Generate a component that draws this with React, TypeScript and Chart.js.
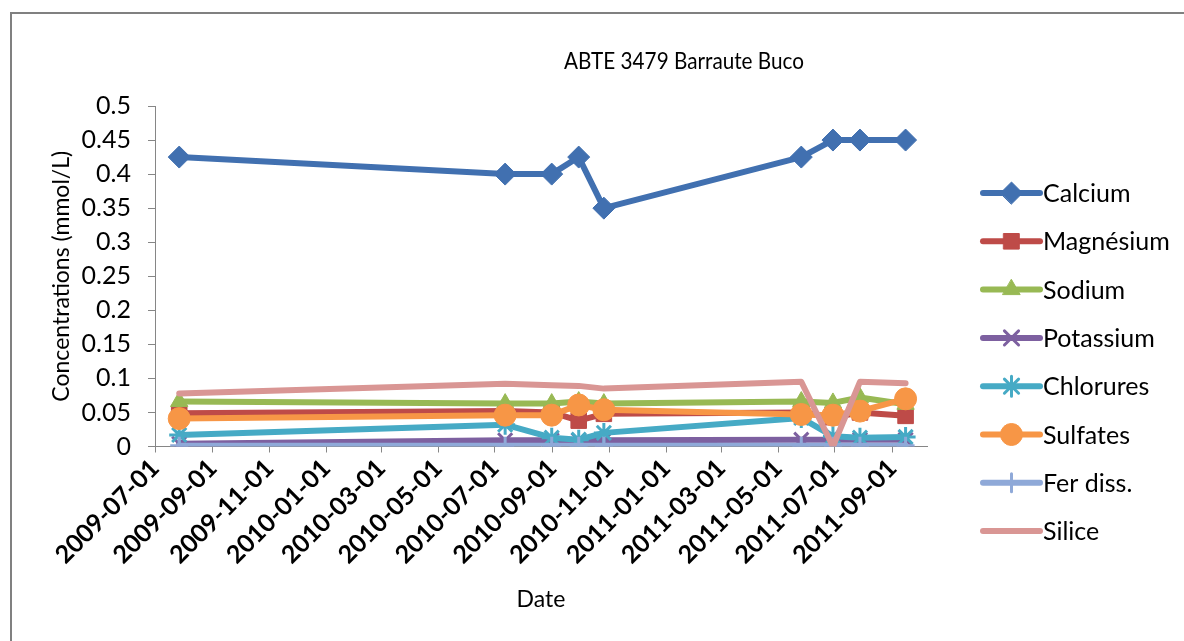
import React, { useEffect, useRef } from 'react';
import { Chart, registerables } from 'chart.js';
import { drawPoint } from 'chart.js/helpers';

Chart.register(...registerables);

// ---- data ----
const chartTitle = 'ABTE 3479 Barraute Buco';
const yAxisTitle = 'Concentrations (mmol/L)';
const xAxisTitle = 'Date';

const dates = ['2009-07-27', '2010-07-12', '2010-08-31', '2010-09-29', '2010-10-26', '2011-05-26', '2011-06-29', '2011-07-28', '2011-09-15'];
const calcium = [0.425, 0.4, 0.4, 0.425, 0.35, 0.425, 0.45, 0.45, 0.45];
const magnesium = [0.049, 0.052, 0.05, 0.038, 0.048, 0.05, 0.043, 0.05, 0.045];
const sodium = [0.066, 0.063, 0.063, 0.066, 0.063, 0.066, 0.064, 0.072, 0.062];
const potassium = [0.004, 0.009, 0.009, 0.009, 0.009, 0.01, 0.01, 0.01, 0.01];
const chlorures = [0.017, 0.032, 0.013, 0.01, 0.02, 0.042, 0.015, 0.013, 0.014];
const sulfates = [0.041, 0.046, 0.046, 0.061, 0.054, 0.047, 0.046, 0.052, 0.07];
const ferDiss = [0.001, 0.001, 0.001, 0.001, 0.001, 0.001, 0.001, 0.001, 0.001];
const silice = [0.078, 0.092, 0.09, 0.089, 0.085, 0.095, 0, 0.095, 0.093];

const seriesNames = ['Calcium', 'Magnésium', 'Sodium', 'Potassium', 'Chlorures', 'Sulfates', 'Fer diss.', 'Silice'];
const seriesValues = [calcium, magnesium, sodium, potassium, chlorures, sulfates, ferDiss, silice];
const seriesColors = ['#4170B0', '#BE4B48', '#98B954', '#7D60A0', '#46AAC5', '#F79646', '#8FA9D8', '#D99694'];
const seriesMarkers = ['rectRot', 'rect', 'triangle', 'crossRot', 'star', 'circle', 'cross', false];
const markerRadius = [11, 11, 10, 10, 10, 11, 9, 0];

const xTickLabels = ['2009-07-01', '2009-09-01', '2009-11-01', '2010-01-01', '2010-03-01', '2010-05-01', '2010-07-01', '2010-09-01', '2010-11-01', '2011-01-01', '2011-03-01', '2011-05-01', '2011-07-01', '2011-09-01'];
const xMin = '2009-07-01';
const xMax = '2011-10-08';
const yTicks = [0, 0.05, 0.1, 0.15, 0.2, 0.25, 0.3, 0.35, 0.4, 0.45, 0.5];

const FONT = 'Lato, Carlito, Calibri, sans-serif';

const toDay = (s: string) => {
  const [y, m, d] = s.split('-').map(Number);
  return Date.UTC(y, m - 1, d) / 86400000;
};
const fromDay = (v: number) => new Date(Math.round(v) * 86400000).toISOString().slice(0, 10);

const isStroke = (s: any) => s === 'crossRot' || s === 'star' || s === 'cross';

const titlePlugin = {
  id: 'fixedTitle',
  afterDraw(chart: any) {
    const ctx = chart.ctx;
    ctx.save();
    ctx.fillStyle = '#000';
    ctx.font = `23px ${FONT}`;
    ctx.textAlign = 'center';
    ctx.textBaseline = 'middle';
    ctx.fillText(chartTitle, 684, 62, 240);
    ctx.restore();
  },
};

const legendPlugin = {
  id: 'lineLegend',
  afterDraw(chart: any) {
    const ctx = chart.ctx;
    const x0 = chart.chartArea.right + 56;
    const top = 193;
    const step = 48.3;
    chart.data.datasets.forEach((ds: any, i: number) => {
      const y = top + i * step;
      ctx.save();
      ctx.strokeStyle = ds.borderColor;
      ctx.lineWidth = 6;
      ctx.lineCap = 'round';
      ctx.beginPath();
      ctx.moveTo(x0, y);
      ctx.lineTo(x0 + 57, y);
      ctx.stroke();
      if (ds.pointStyle) {
        ctx.fillStyle = ds.pointBackgroundColor;
        ctx.strokeStyle = ds.pointBorderColor;
        ctx.lineWidth = ds.pointBorderWidth;
        drawPoint(ctx, { pointStyle: ds.pointStyle, radius: ds.pointRadius, rotation: 0, borderWidth: ds.pointBorderWidth }, x0 + 28.5, y);
      }
      ctx.fillStyle = '#000';
      ctx.font = `25px ${FONT}`;
      ctx.textAlign = 'left';
      ctx.textBaseline = 'middle';
      ctx.fillText(ds.label, x0 + 60, y + 1);
      ctx.restore();
    });
  },
};

export default function App() {
  const canvasRef = useRef<HTMLCanvasElement | null>(null);

  useEffect(() => {
    const canvas = canvasRef.current;
    if (!canvas) return;
    const datasets = seriesNames.map((name, i) => {
      const style = seriesMarkers[i];
      const stroke = isStroke(style);
      return {
        label: name,
        data: dates.map((d, j) => ({ x: toDay(d), y: seriesValues[i][j] })),
        borderColor: seriesColors[i],
        backgroundColor: seriesColors[i],
        borderWidth: 6,
        borderJoinStyle: 'round',
        borderCapStyle: 'round',
        tension: 0,
        pointStyle: style,
        pointRadius: markerRadius[i],
        pointHoverRadius: markerRadius[i],
        pointBackgroundColor: seriesColors[i],
        pointBorderColor: seriesColors[i],
        pointBorderWidth: stroke ? 3 : 1,
        order: seriesNames.length - 1 - i,
      };
    });

    const chart = new Chart(canvas, {
      type: 'line',
      data: { datasets },
      options: {
        animation: false,
        responsive: false,
        events: [],
        layout: { padding: { left: 10, top: 106, right: 257, bottom: 10 } },
        plugins: {
          legend: { display: false },
          title: { display: false },
          tooltip: { enabled: false },
        },
        scales: {
          x: {
            type: 'linear',
            min: toDay(xMin),
            max: toDay(xMax),
            afterBuildTicks: (s: any) => {
              s.ticks = xTickLabels.map((d) => ({ value: toDay(d) }));
            },
            afterFit: (s: any) => {
              s.height = 641 - 10 - 446.5;
            },
            ticks: {
              autoSkip: false,
              minRotation: 45,
              maxRotation: 45,
              padding: 1,
              color: '#000',
              font: { family: FONT, size: 25, weight: 'bold' },
              callback: (v: any) => fromDay(Number(v)),
            },
            grid: { display: true, drawOnChartArea: false, drawTicks: true, tickLength: 6, color: '#868686' },
            border: { display: true, color: '#868686', width: 1 },
            title: {
              display: true,
              text: xAxisTitle,
              color: '#000',
              font: { family: FONT, size: 23 },
              padding: { top: 0, bottom: 18 },
            },
          },
          y: {
            type: 'linear',
            min: 0,
            max: 0.5,
            afterBuildTicks: (s: any) => {
              s.ticks = yTicks.map((v) => ({ value: v }));
            },
            afterFit: (s: any) => {
              s.width = 145;
            },
            ticks: {
              padding: 17,
              color: '#000',
              font: { family: FONT, size: 25 },
              callback: (v: any) => String(Number(Number(v).toFixed(2))),
            },
            grid: { display: true, drawOnChartArea: false, drawTicks: true, tickLength: 7, color: '#868686' },
            border: { display: true, color: '#868686', width: 1 },
            title: {
              display: true,
              text: yAxisTitle,
              color: '#000',
              font: { family: FONT, size: 23 },
              padding: { top: 38, bottom: 0 },
            },
          },
        },
      } as any,
      plugins: [titlePlugin, legendPlugin],
    });
    return () => chart.destroy();
  }, []);

  return (
    <div style={{ position: 'fixed', left: 0, top: 0, width: 1184, height: 641, background: '#fff', overflow: 'hidden' }}>
      <div
        style={{
          position: 'absolute',
          left: 10,
          top: 12,
          width: 1300,
          height: 700,
          borderLeft: '2px solid #808080',
          borderTop: '2px solid #808080',
        }}
      />
      <canvas ref={canvasRef} width={1184} height={641} style={{ position: 'absolute', left: 0, top: 0 }} />
    </div>
  );
}
